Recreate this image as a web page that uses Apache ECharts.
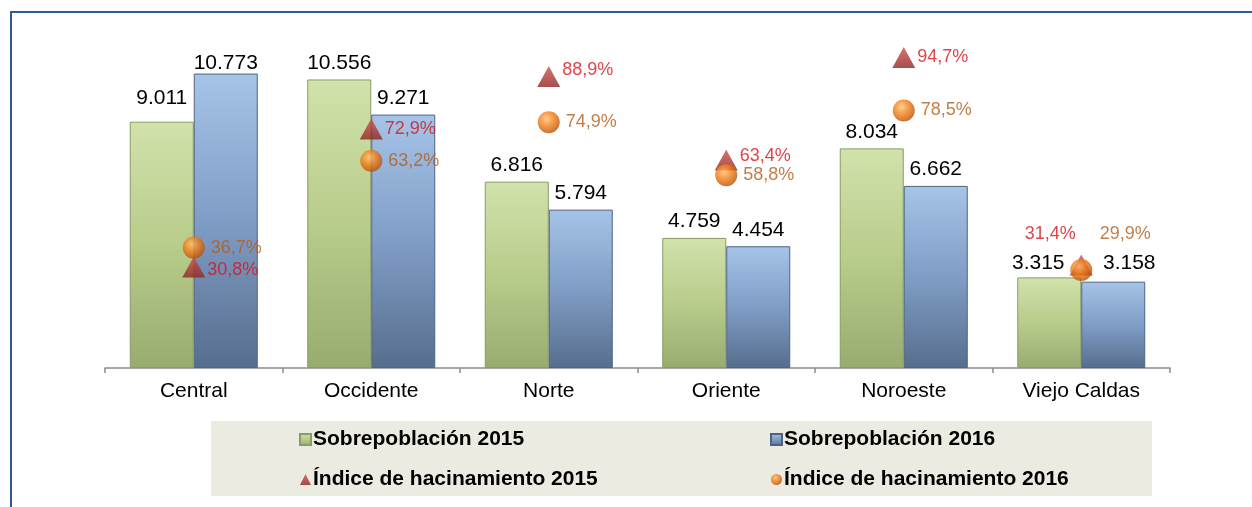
<!DOCTYPE html>
<html>
<head>
<meta charset="utf-8">
<script src="https://cdn.jsdelivr.net/npm/echarts@6/dist/echarts.min.js"></script>
<style>
    html, body { margin: 0; padding: 0; background: #fff; }
    #chart { width: 1252px; height: 507px; }
</style>
</head>
<body>
<div id="chart"></div>
<script>
const regions = ['Central', 'Occidente', 'Norte', 'Oriente', 'Noroeste', 'Viejo Caldas'];
const sobre2015 = [9011, 10556, 6816, 4759, 8034, 3315];
const sobre2016 = [10773, 9271, 5794, 4454, 6662, 3158];
const hacin2015 = [0.308, 0.729, 0.889, 0.634, 0.947, 0.314];
const hacin2016 = [0.367, 0.632, 0.749, 0.588, 0.785, 0.299];

const FONT = 'Liberation Sans, Arial, sans-serif';

const fmtThousands = (v) => {
    let s = String(v);
    return s.length > 3 ? s.slice(0, -3) + '.' + s.slice(-3) : s;
};
const fmtPct = (v) => (v * 100).toFixed(1).replace('.', ',') + '%';

const greenFill = {
    type: 'linear', x: 0, y: 0, x2: 0, y2: 1,
    colorStops: [
        { offset: 0, color: '#d2e2ab' },
        { offset: 0.5, color: '#b8cc8b' },
        { offset: 1, color: '#98ac70' },
    ],
};
const blueFill = {
    type: 'linear', x: 0, y: 0, x2: 0, y2: 1,
    colorStops: [
        { offset: 0, color: '#a6c3e8' },
        { offset: 0.5, color: '#809dc6' },
        { offset: 1, color: '#566e8d' },
    ],
};
const redFill = {
    type: 'linear', x: 0, y: 0, x2: 0, y2: 1,
    colorStops: [
        { offset: 0, color: '#d0504c' },
        { offset: 1, color: '#8e2422' },
    ],
};
const orangeFill = {
    type: 'radial', x: 0.4, y: 0.35, r: 0.7,
    colorStops: [
        { offset: 0, color: '#ffc070' },
        { offset: 0.5, color: '#f07a12' },
        { offset: 1, color: '#b04c08' },
    ],
};

// bar labels nudged where the original moved them
const bar15Data = sobre2015.map((v, i) => {
    let item = { value: v };
    if (i === 0) item.label = { offset: [0, -7] };
    if (i === 5) item.label = { offset: [-11, 2] };
    return item;
});
const bar16Data = sobre2016.map((v, i) => {
    let item = { value: v };
    if (i === 0) item.label = { offset: [0, 6] };
    if (i === 5) item.label = { offset: [16, -2] };
    return item;
});

// label placement for the markers (Viejo Caldas labels sit above)
const triData = hacin2015.map((v, i) => {
    let item = { value: v };
    if (i === 0) item.label = { offset: [0, 3] };
    if (i === 2) item.label = { offset: [0, -6] };
    if (i === 3) item.label = { offset: [0, -4] };
    if (i === 5) {
        item.label = { position: 'top', offset: [-31, -9] };
    }
    return item;
});
const circData = hacin2016.map((v, i) => {
    let item = { value: v };
    if (i === 5) {
        item.label = { position: 'top', offset: [44, -10] };
    }
    return item;
});

const chart = echarts.init(document.getElementById('chart'));
const legendText = {
    fontSize: 21,
    lineHeight: 20,
    fontWeight: 'bold',
    color: '#000',
    fontFamily: FONT,
    padding: [0, 0, 0, -3],
};
const option = {
    animation: false,
    textStyle: { fontFamily: FONT },
    graphic: [
        {
            type: 'polyline',
            shape: { points: [[11, 507], [11, 12], [1252, 12]] },
            style: { stroke: '#2f5c96', lineWidth: 2, fill: null },
        },
        {
            type: 'rect',
            z: -1,
            shape: { x: 211, y: 421, width: 941, height: 75 },
            style: { fill: '#ecebe1' },
        },
    ],
    grid: {
        left: 105,
        right: 82,
        top: 40,
        bottom: 139,
    },
    legend: [
        {
            left: 294,
            top: 424,
            orient: 'vertical',
            itemGap: 19,
            itemWidth: 11,
            itemHeight: 11,
            textStyle: legendText,
            data: [
                { name: 'Sobrepoblación 2015', icon: 'rect' },
                { name: 'Índice de hacinamiento 2015', icon: 'triangle' },
            ],
        },
        {
            left: 765,
            top: 424,
            orient: 'vertical',
            itemGap: 19,
            itemWidth: 11,
            itemHeight: 11,
            textStyle: legendText,
            data: [
                { name: 'Sobrepoblación 2016', icon: 'rect' },
                { name: 'Índice de hacinamiento 2016', icon: 'circle' },
            ],
        },
    ],
    xAxis: {
        type: 'category',
        data: regions,
        axisLine: { lineStyle: { color: '#8c8c8c', width: 1.5 } },
        axisTick: { show: true, length: 5, lineStyle: { color: '#8c8c8c', width: 1.5 } },
        axisLabel: { fontSize: 21, color: '#000', margin: 13, fontFamily: FONT },
    },
    yAxis: [
        { type: 'value', min: 0, max: 12000, show: false, splitLine: { show: false } },
        { type: 'value', min: 0, max: 1, show: false, splitLine: { show: false } },
    ],
    series: [
        {
            name: 'Sobrepoblación 2015',
            type: 'bar',
            barWidth: 64,
            barGap: '0%',
            data: bar15Data,
            itemStyle: { color: greenFill, borderColor: '#8a9b66', borderWidth: 1 },
            label: {
                show: true,
                position: 'top',
                distance: 6,
                fontSize: 21,
                color: '#000',
                fontFamily: FONT,
                formatter: (p) => fmtThousands(p.value),
            },
        },
        {
            name: 'Sobrepoblación 2016',
            type: 'bar',
            barWidth: 64,
            data: bar16Data,
            itemStyle: { color: blueFill, borderColor: '#4f6483', borderWidth: 1 },
            label: {
                show: true,
                position: 'top',
                distance: 6,
                fontSize: 21,
                color: '#000',
                fontFamily: FONT,
                formatter: (p) => fmtThousands(p.value),
            },
        },
        {
            name: 'Índice de hacinamiento 2015',
            type: 'scatter',
            yAxisIndex: 1,
            symbol: 'triangle',
            symbolSize: [23, 21],
            z: 5,
            data: triData,
            itemStyle: { color: redFill },
            label: {
                show: true,
                position: 'right',
                distance: 2,
                fontSize: 18,
                color: '#d4141c',
                fontFamily: FONT,
                formatter: (p) => fmtPct(p.value),
            },
        },
        {
            name: 'Índice de hacinamiento 2016',
            type: 'scatter',
            yAxisIndex: 1,
            symbol: 'circle',
            symbolSize: 22,
            z: 6,
            data: circData,
            itemStyle: { color: orangeFill },
            label: {
                show: true,
                position: 'right',
                distance: 6,
                fontSize: 18,
                color: '#b25e1a',
                fontFamily: FONT,
                formatter: (p) => fmtPct(p.value),
            },
        },
    ],
};
chart.setOption(option);
</script>
</body>
</html>
